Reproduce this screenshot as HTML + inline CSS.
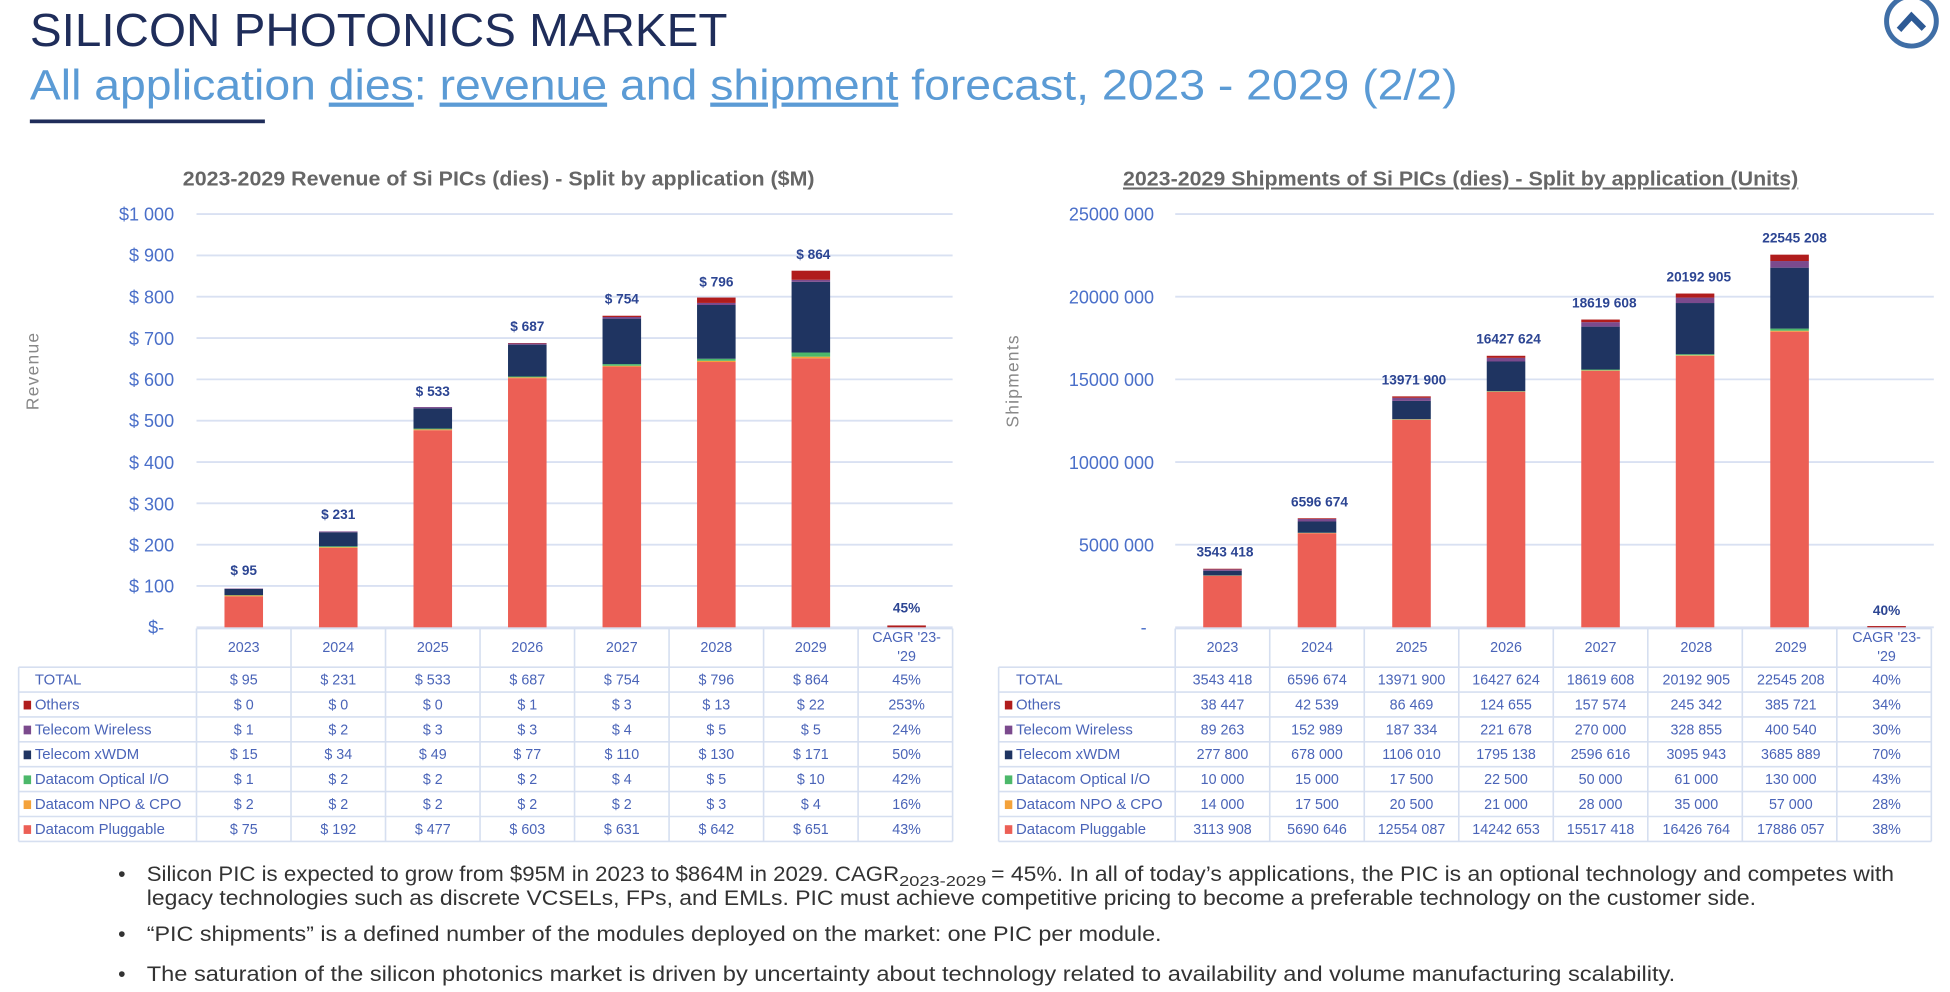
<!DOCTYPE html>
<html><head><meta charset="utf-8">
<style>
html,body{margin:0;padding:0;background:#fff;}
svg{display:block;}
text{font-family:"Liberation Sans",sans-serif;}
.yl{fill:#4a6fc9;font-size:14.5px;text-anchor:end;}
.tot{fill:#2c4593;font-size:11px;font-weight:bold;text-anchor:middle;}
.tb{fill:#4a64b8;font-size:11.5px;text-anchor:middle;}
.tl{fill:#4a64b8;font-size:12px;}
.bul{fill:#333;font-size:17px;}
</style></head><body>
<svg id="s" width="1950" height="992" viewBox="0 0 1568 797" preserveAspectRatio="none" xmlns="http://www.w3.org/2000/svg">
<text x="24" y="37" textLength="561" lengthAdjust="spacingAndGlyphs" style="font-size:37px;fill:#1f2d5a">SILICON PHOTONICS MARKET</text>
<text x="24" y="80" textLength="1148" lengthAdjust="spacingAndGlyphs" style="font-size:34px;fill:#5b9bd5">All application <tspan text-decoration="underline">dies</tspan>: <tspan text-decoration="underline">revenue</tspan> and <tspan text-decoration="underline">shipment</tspan> forecast, 2023 - 2029 (2/2)</text>
<rect x="24" y="96" width="189" height="3" fill="#1f2d5a"/>
<circle cx="1537" cy="17" r="20" fill="none" stroke="#3f6ea6" stroke-width="4"/>
<path d="M1527 24 L1537 13 L1547 23" fill="none" stroke="#2d5a95" stroke-width="5"/>

<text x="147" y="149" textLength="508" lengthAdjust="spacingAndGlyphs" style="font-size:16.5px;font-weight:bold;fill:#666">2023-2029 Revenue of Si PICs (dies) - Split by application ($M)</text>
<text x="903" y="149" textLength="543" lengthAdjust="spacingAndGlyphs" text-decoration="underline" style="font-size:16.5px;font-weight:bold;fill:#666">2023-2029 Shipments of Si PICs (dies) - Split by application (Units)</text>
<text transform="translate(31,298) rotate(-90)" style="font-size:14px;fill:#888;text-anchor:middle;letter-spacing:1px">Revenue</text>
<text transform="translate(819,306) rotate(-90)" style="font-size:14px;fill:#888;text-anchor:middle;letter-spacing:1px">Shipments</text>

<g id="grid" stroke="#d9e1f2" stroke-width="1.5"></g>
<g class="yl">
<text x="140" y="177">$1 000</text><text x="140" y="210">$ 900</text><text x="140" y="244">$ 800</text><text x="140" y="277">$ 700</text><text x="140" y="310">$ 600</text><text x="140" y="343">$ 500</text><text x="140" y="377">$ 400</text><text x="140" y="410">$ 300</text><text x="140" y="443">$ 200</text><text x="140" y="476">$ 100</text><text x="132" y="509">$-</text>
<text x="928" y="177">25000 000</text><text x="928" y="244">20000 000</text><text x="928" y="310">15000 000</text><text x="928" y="377">10000 000</text><text x="928" y="443">5000 000</text><text x="922" y="509">-</text>
</g>
<g id="bars"></g>
<g class="tot">
<text x="196" y="462">$ 95</text><text x="272" y="417">$ 231</text><text x="348" y="318">$ 533</text><text x="424" y="266">$ 687</text><text x="500" y="244">$ 754</text><text x="576" y="230">$ 796</text><text x="654" y="208">$ 864</text><text x="729" y="492">45%</text>
<text x="985" y="447">3543 418</text><text x="1061" y="407">6596 674</text><text x="1137" y="309">13971 900</text><text x="1213" y="276">16427 624</text><text x="1290" y="247">18619 608</text><text x="1366" y="226">20192 905</text><text x="1443" y="195">22545 208</text><text x="1517" y="494">40%</text>
</g>
<g id="tbl" stroke="#d6dff0" stroke-width="1.3" fill="none"></g>
<g class="tb">
<text x="196" y="524">2023</text><text x="272" y="524">2024</text><text x="348" y="524">2025</text><text x="424" y="524">2026</text><text x="500" y="524">2027</text><text x="576" y="524">2028</text><text x="652" y="524">2029</text><text x="729" y="516">CAGR '23-</text><text x="729" y="531">'29</text>
<text x="196" y="550">$ 95</text><text x="272" y="550">$ 231</text><text x="348" y="550">$ 533</text><text x="424" y="550">$ 687</text><text x="500" y="550">$ 754</text><text x="576" y="550">$ 796</text><text x="652" y="550">$ 864</text><text x="729" y="550">45%</text>
<text x="196" y="570">$ 0</text><text x="272" y="570">$ 0</text><text x="348" y="570">$ 0</text><text x="424" y="570">$ 1</text><text x="500" y="570">$ 3</text><text x="576" y="570">$ 13</text><text x="652" y="570">$ 22</text><text x="729" y="570">253%</text>
<text x="196" y="590">$ 1</text><text x="272" y="590">$ 2</text><text x="348" y="590">$ 3</text><text x="424" y="590">$ 3</text><text x="500" y="590">$ 4</text><text x="576" y="590">$ 5</text><text x="652" y="590">$ 5</text><text x="729" y="590">24%</text>
<text x="196" y="610">$ 15</text><text x="272" y="610">$ 34</text><text x="348" y="610">$ 49</text><text x="424" y="610">$ 77</text><text x="500" y="610">$ 110</text><text x="576" y="610">$ 130</text><text x="652" y="610">$ 171</text><text x="729" y="610">50%</text>
<text x="196" y="630">$ 1</text><text x="272" y="630">$ 2</text><text x="348" y="630">$ 2</text><text x="424" y="630">$ 2</text><text x="500" y="630">$ 4</text><text x="576" y="630">$ 5</text><text x="652" y="630">$ 10</text><text x="729" y="630">42%</text>
<text x="196" y="650">$ 2</text><text x="272" y="650">$ 2</text><text x="348" y="650">$ 2</text><text x="424" y="650">$ 2</text><text x="500" y="650">$ 2</text><text x="576" y="650">$ 3</text><text x="652" y="650">$ 4</text><text x="729" y="650">16%</text>
<text x="196" y="670">$ 75</text><text x="272" y="670">$ 192</text><text x="348" y="670">$ 477</text><text x="424" y="670">$ 603</text><text x="500" y="670">$ 631</text><text x="576" y="670">$ 642</text><text x="652" y="670">$ 651</text><text x="729" y="670">43%</text>

<text x="983" y="524">2023</text><text x="1059" y="524">2024</text><text x="1135" y="524">2025</text><text x="1211" y="524">2026</text><text x="1287" y="524">2027</text><text x="1364" y="524">2028</text><text x="1440" y="524">2029</text><text x="1517" y="516">CAGR '23-</text><text x="1517" y="531">'29</text>
<text x="983" y="550">3543 418</text><text x="1059" y="550">6596 674</text><text x="1135" y="550">13971 900</text><text x="1211" y="550">16427 624</text><text x="1287" y="550">18619 608</text><text x="1364" y="550">20192 905</text><text x="1440" y="550">22545 208</text><text x="1517" y="550">40%</text>
<text x="983" y="570">38 447</text><text x="1059" y="570">42 539</text><text x="1135" y="570">86 469</text><text x="1211" y="570">124 655</text><text x="1287" y="570">157 574</text><text x="1364" y="570">245 342</text><text x="1440" y="570">385 721</text><text x="1517" y="570">34%</text>
<text x="983" y="590">89 263</text><text x="1059" y="590">152 989</text><text x="1135" y="590">187 334</text><text x="1211" y="590">221 678</text><text x="1287" y="590">270 000</text><text x="1364" y="590">328 855</text><text x="1440" y="590">400 540</text><text x="1517" y="590">30%</text>
<text x="983" y="610">277 800</text><text x="1059" y="610">678 000</text><text x="1135" y="610">1106 010</text><text x="1211" y="610">1795 138</text><text x="1287" y="610">2596 616</text><text x="1364" y="610">3095 943</text><text x="1440" y="610">3685 889</text><text x="1517" y="610">70%</text>
<text x="983" y="630">10 000</text><text x="1059" y="630">15 000</text><text x="1135" y="630">17 500</text><text x="1211" y="630">22 500</text><text x="1287" y="630">50 000</text><text x="1364" y="630">61 000</text><text x="1440" y="630">130 000</text><text x="1517" y="630">43%</text>
<text x="983" y="650">14 000</text><text x="1059" y="650">17 500</text><text x="1135" y="650">20 500</text><text x="1211" y="650">21 000</text><text x="1287" y="650">28 000</text><text x="1364" y="650">35 000</text><text x="1440" y="650">57 000</text><text x="1517" y="650">28%</text>
<text x="983" y="670">3113 908</text><text x="1059" y="670">5690 646</text><text x="1135" y="670">12554 087</text><text x="1211" y="670">14242 653</text><text x="1287" y="670">15517 418</text><text x="1364" y="670">16426 764</text><text x="1440" y="670">17886 057</text><text x="1517" y="670">38%</text>
</g>
<g class="tl">
<text x="28" y="550">TOTAL</text><text x="28" y="570">Others</text><text x="28" y="590">Telecom Wireless</text><text x="28" y="610">Telecom xWDM</text><text x="28" y="630">Datacom Optical I/O</text><text x="28" y="650">Datacom NPO &amp; CPO</text><text x="28" y="670">Datacom Pluggable</text>
<text x="817" y="550">TOTAL</text><text x="817" y="570">Others</text><text x="817" y="590">Telecom Wireless</text><text x="817" y="610">Telecom xWDM</text><text x="817" y="630">Datacom Optical I/O</text><text x="817" y="650">Datacom NPO &amp; CPO</text><text x="817" y="670">Datacom Pluggable</text>
</g>
<g id="sw"></g>

<g class="bul">
<text x="95" y="708">•</text>
<text x="118" y="708" textLength="605" lengthAdjust="spacingAndGlyphs">Silicon PIC is expected to grow from $95M in 2023 to $864M in 2029. CAGR</text>
<text x="723" y="712" textLength="70" lengthAdjust="spacingAndGlyphs" style="font-size:11.5px">2023-2029</text>
<text x="797" y="708" textLength="726" lengthAdjust="spacingAndGlyphs">= 45%. In all of today’s applications, the PIC is an optional technology and competes with</text>
<text x="118" y="727" textLength="1294" lengthAdjust="spacingAndGlyphs">legacy technologies such as discrete VCSELs, FPs, and EMLs. PIC must achieve competitive pricing to become a preferable technology on the customer side.</text>
<text x="95" y="756">•</text><text x="118" y="756" textLength="816" lengthAdjust="spacingAndGlyphs">“PIC shipments” is a defined number of the modules deployed on the market: one PIC per module.</text>
<text x="95" y="788">•</text><text x="118" y="788" textLength="1229" lengthAdjust="spacingAndGlyphs">The saturation of the silicon photonics market is driven by uncertainty about technology related to availability and volume manufacturing scalability.</text>
</g>
</svg>
<script>
var NS="http://www.w3.org/2000/svg";
function el(p,t,a){var e=document.createElementNS(NS,t);for(var k in a)e.setAttribute(k,a[k]);document.getElementById(p).appendChild(e);return e;}
var cols=["#ec5f55","#f4a23a","#4cb86a","#1f3461","#7b4a8d","#b01c1c"];
for(var i=0;i<=10;i++){var y=172+i*33.2;el("grid","line",{x1:158,x2:766,y1:y,y2:y});}
for(var i=0;i<=5;i++){var y=172+i*66.4;el("grid","line",{x1:945,x2:1555,y1:y,y2:y});}
var rev=[[75,2,1,15,1,0],[192,2,2,34,2,0],[477,2,2,49,3,0],[603,2,2,77,3,1],[631,2,4,110,4,3],[642,3,5,130,5,13],[651,4,10,171,5,22]];
var shp=[[3113908,14000,10000,277800,89263,38447],[5690646,17500,15000,678000,152989,42539],[12554087,20500,17500,1106010,187334,86469],[14242653,21000,22500,1795138,221678,124655],[15517418,28000,50000,2596616,270000,157574],[16426764,35000,61000,3095943,328855,245342],[17886057,57000,130000,3685889,400540,385721]];
function bars(data,x0,sc){data.forEach(function(d,i){var cx=x0+38+76*i,y=504;d.forEach(function(v,j){var h=v*sc;if(h<=0)return;y-=h;el("bars","rect",{x:cx-15.5,y:y,width:31,height:h,fill:cols[j]});});});}
bars(rev,158,0.332);bars(shp,945,1.328e-5);
el("bars","rect",{x:713.5,y:502.5,width:31,height:1.5,fill:"#b01c1c"});
el("bars","rect",{x:1501.5,y:503,width:31,height:1,fill:"#b01c1c"});
function tbl(x0,xs){var rows=[505,536,556,576,596,616,636,656,676];
 rows.forEach(function(y,i){el("tbl","line",{x1:(i==0?xs:x0),x2:xs+608,y1:y,y2:y});});
 for(var i=0;i<=8;i++){var x=xs+76*i;el("tbl","line",{x1:x,x2:x,y1:505,y2:676});}
 el("tbl","line",{x1:x0,x2:x0,y1:536,y2:676});}
tbl(15,158);tbl(803,945);
[[15,21],[803,810]].forEach(function(p){for(var j=0;j<6;j++){el("sw","rect",{x:p[1]-2,y:563+20*j,width:6,height:7,fill:cols[5-j]});}});
</script>
</body></html>
